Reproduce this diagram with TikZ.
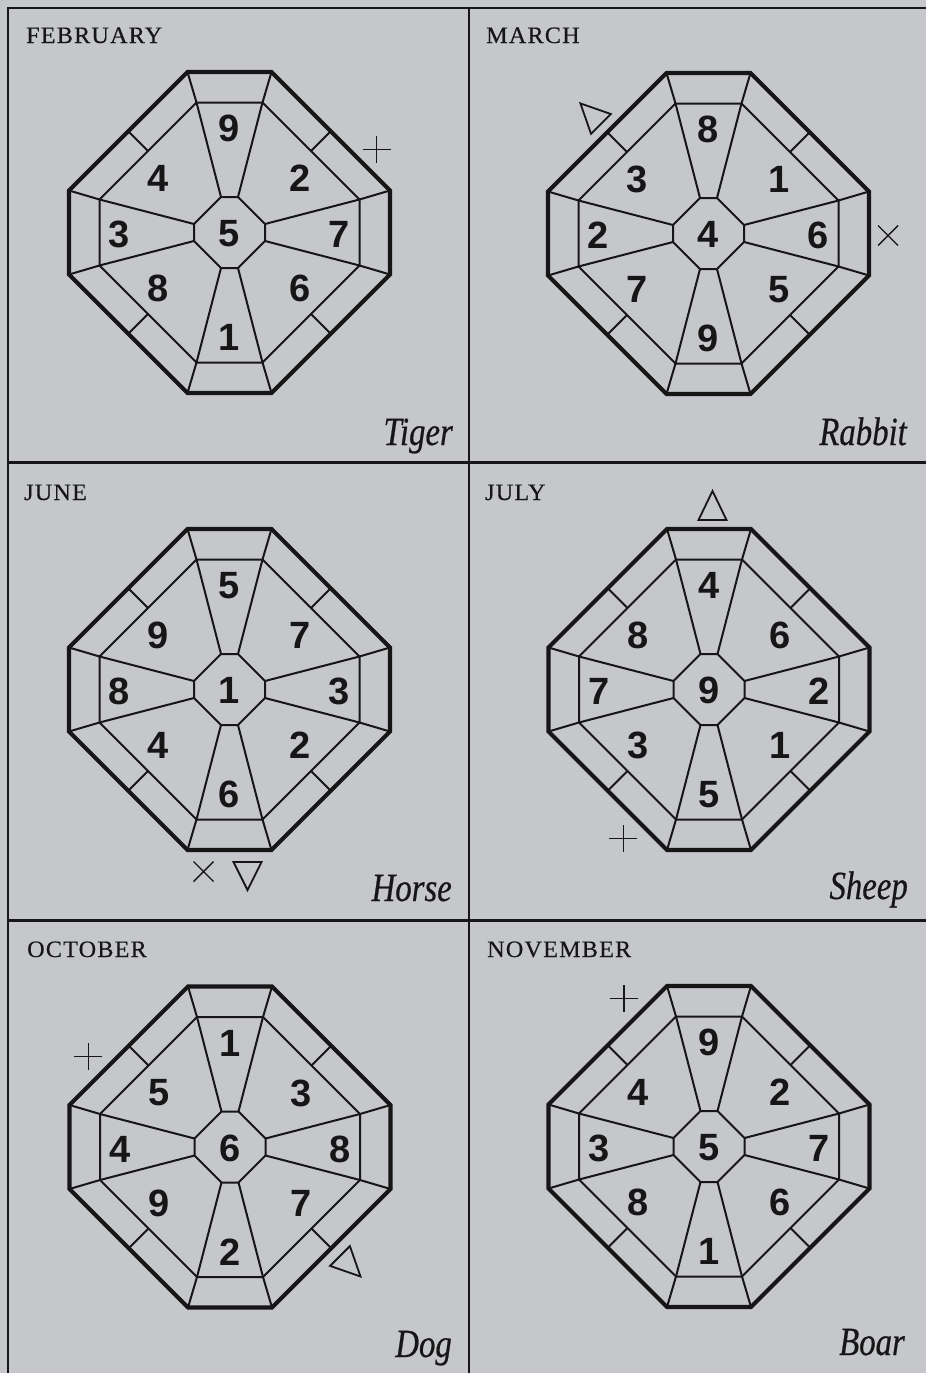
\documentclass[tikz,border=0pt]{standalone}
\usepackage{tikz}
\usepackage{fontspec}
\setmainfont{Liberation Serif}
\newfontfamily\monthfont{Liberation Serif}[FakeStretch=1.03,LetterSpace=5,FakeBold=0.4]
\newfontfamily\animalfont{Liberation Serif}[FakeStretch=0.82,FakeBold=0.5]
\newfontfamily\digitfont{Liberation Sans}

\definecolor{paper}{RGB}{198,199,203}
\definecolor{ink}{RGB}{22,22,22}

\tikzset{
  rimline/.style={draw=ink,line width=4.2pt,line join=miter},
  cellline/.style={draw=ink,line width=2pt,line join=miter},
  frameline/.style={draw=ink,line width=2.6pt},
  markline/.style={draw=ink,line width=1.4pt},
  trimark/.style={draw=ink,line width=1.8pt,line join=miter},
  digit/.style={inner sep=0pt,text=ink,font=\digitfont\bfseries\fontsize{38}{38}\selectfont},
  month/.style={inner sep=0pt,anchor=base west,text=ink,font=\monthfont\fontsize{23.5}{23.5}\selectfont},
  animal/.style={inner sep=0pt,anchor=base east,text=ink,font=\animalfont\itshape\fontsize{40}{40}\selectfont},
}

% rim, ring and hub round (0,0)
\newcommand{\octframe}{%
  \draw[cellline] (-33,-130) -- (33,-130) -- (130,-33) -- (130,33) -- (33,130) -- (-33,130) -- (-130,33) -- (-130,-33) -- cycle;
  \draw[cellline] (-8.5,-35.5) -- (8.5,-35.5) -- (35.5,-8.5) -- (35.5,8.5) -- (8.5,35.5) -- (-8.5,35.5) -- (-35.5,8.5) -- (-35.5,-8.5) -- cycle;
  \draw[cellline] (-42,-160.5) -- (-33,-130) -- (-8.5,-35.5);
  \draw[cellline] (42,-160.5) -- (33,-130) -- (8.5,-35.5);
  \draw[cellline] (160.5,-42) -- (130,-33) -- (35.5,-8.5);
  \draw[cellline] (160.5,42) -- (130,33) -- (35.5,8.5);
  \draw[cellline] (42,160.5) -- (33,130) -- (8.5,35.5);
  \draw[cellline] (-42,160.5) -- (-33,130) -- (-8.5,35.5);
  \draw[cellline] (-160.5,42) -- (-130,33) -- (-35.5,8.5);
  \draw[cellline] (-160.5,-42) -- (-130,-33) -- (-35.5,-8.5);
  \draw[cellline] (101.25,-101.25) -- (81.5,-81.5);
  \draw[cellline] (101.25,101.25) -- (81.5,81.5);
  \draw[cellline] (-101.25,101.25) -- (-81.5,81.5);
  \draw[cellline] (-101.25,-101.25) -- (-81.5,-81.5);
  \draw[rimline] (-42,-160.5) -- (42,-160.5) -- (160.5,-42) -- (160.5,42) -- (42,160.5) -- (-42,160.5) -- (-160.5,42) -- (-160.5,-42) -- cycle;
}

% the nine numbers: N NE E SE S SW W NW centre
\newcommand{\octnums}[9]{%
  \node[digit] (n) at (0,-104) {#1};
  \node[digit] (ne) at (71,-54) {#2};
  \node[digit] (e) at (110,2) {#3};
  \node[digit] (se) at (71,56) {#4};
  \node[digit] (s) at (0,105) {#5};
  \node[digit] (sw) at (-71,56) {#6};
  \node[digit] (w) at (-110,2) {#7};
  \node[digit] (nw) at (-71,-54) {#8};
  \node[digit] (c) at (0,1) {#9};
}

\begin{document}
\begin{tikzpicture}[x=1pt,y=-1pt]
  \fill[paper] (0,0) rectangle (926,1373);
  \useasboundingbox (0,0) rectangle (926,1373);

  \draw[frameline] (8,1373) -- (8,8) -- (926,8);
  \draw[frameline] (469,8) -- (469,1373);
  \draw[frameline] (8,462.5) -- (926,462.5);
  \draw[frameline] (8,920.5) -- (926,920.5);

  \node[month] (feb) at (26,43) {FEBRUARY};
  \node[month] (mar) at (486,43) {MARCH};
  \node[month] (jun) at (24,500) {JUNE};
  \node[month] (jul) at (485,500) {JULY};
  \node[month] (oct) at (27,957) {OCTOBER};
  \node[month] (nov) at (487,957) {NOVEMBER};

  \node[animal] (tiger) at (453,445) {Tiger};
  \node[animal] (rabbit) at (907,445) {Rabbit};
  \node[animal] (horse) at (452,901) {Horse};
  \node[animal] (sheep) at (908,899) {Sheep};
  \node[animal] (dog) at (452,1357) {Dog};
  \node[animal] (boar) at (905,1355) {Boar};

  \begin{scope}[shift={(229.5,232.5)},name prefix=feb-]
    \octframe
    \octnums{9}{2}{7}{6}{1}{8}{3}{4}{5}
    \draw[markline] (133,-83) -- (161,-83) (147,-96.5) -- (147,-69.5);
  \end{scope}

  \begin{scope}[shift={(708.5,233.5)},name prefix=mar-]
    \octframe
    \octnums{8}{1}{6}{5}{9}{7}{2}{3}{4}
    \draw[trimark] (-128.1,-130.1) -- (-97.7,-119.5) -- (-117.5,-99.7) -- cycle;
    \draw[markline] (169.5,-8) -- (189.5,12) (169.5,12) -- (189.5,-8);
  \end{scope}

  \begin{scope}[shift={(229.5,689.5)},name prefix=jun-]
    \octframe
    \octnums{5}{7}{3}{2}{6}{4}{8}{9}{1}
    \draw[trimark] (4,172.5) -- (32,172.5) -- (18,200.5) -- cycle;
    \draw[markline] (-36,172) -- (-16,192) (-36,192) -- (-16,172);
  \end{scope}

  \begin{scope}[shift={(709,689.5)},name prefix=jul-]
    \octframe
    \octnums{4}{6}{2}{1}{5}{3}{7}{8}{9}
    \draw[trimark] (-10.5,-169.5) -- (17.5,-169.5) -- (3.5,-198.5) -- cycle;
    \draw[markline] (-99.7,149) -- (-71.7,149) (-85.7,135.5) -- (-85.7,162.5);
  \end{scope}

  \begin{scope}[shift={(230,1147)},name prefix=oct-]
    \octframe
    \octnums{1}{3}{8}{7}{2}{9}{4}{5}{6}
    \draw[trimark] (130.5,129.5) -- (119.9,99.1) -- (100.1,118.9) -- cycle;
    \draw[markline] (-155.7,-90.3) -- (-127.7,-90.3) (-141.7,-103.8) -- (-141.7,-76.8);
  \end{scope}

  \begin{scope}[shift={(709,1146.5)},name prefix=nov-]
    \octframe
    \octnums{9}{2}{7}{6}{1}{8}{3}{4}{5}
    \draw[markline] (-99,-148.2) -- (-71,-148.2) (-85,-161.7) -- (-85,-134.7);
  \end{scope}
\end{tikzpicture}
\end{document}
